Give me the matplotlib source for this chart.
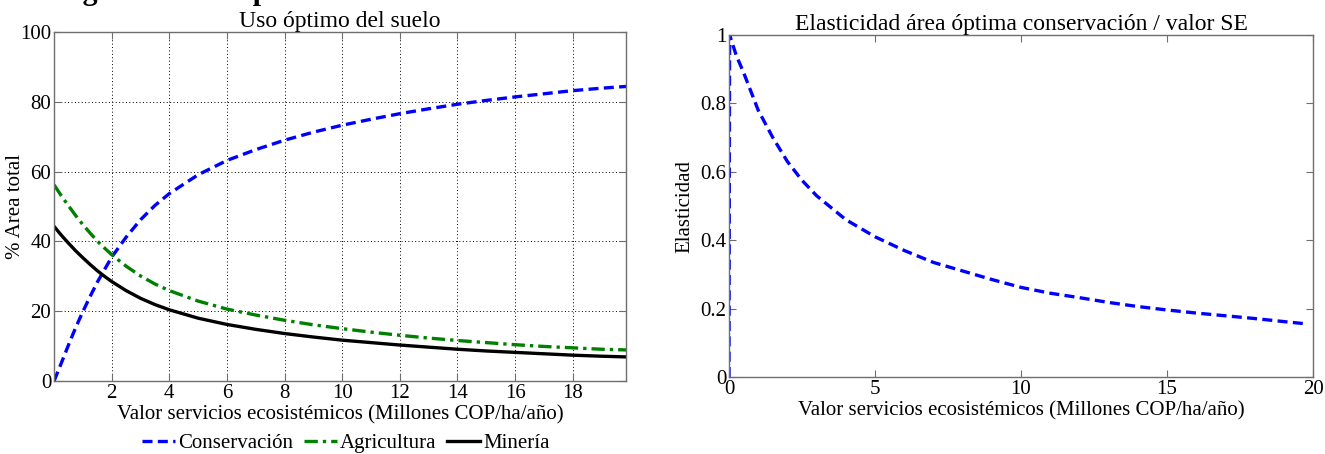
import numpy as np
import matplotlib.pyplot as plt
from matplotlib.ticker import FixedLocator, FuncFormatter

plt.rcParams.update({
    'font.family': ['Liberation Serif', 'DejaVu Serif'],
    'font.size': 15,
    'axes.linewidth': 1.0,
})

# -----------------------------------------------------------------------------
# Data

# Left panel: optimal land use (% of total area) vs ecosystem-service value
x_uso = [0, 0.25, 0.5, 0.75, 1, 1.25, 1.5, 1.75, 2, 2.5, 3, 3.5, 4, 5, 6, 7,
         8, 9, 10, 11, 12, 13, 14, 15, 16, 17, 18, 19, 19.85]
conservacion = [0, 5.1, 10.3, 15.3, 19.9, 24.2, 28.3, 31.9, 35.5, 41.2, 46.2,
                50.3, 53.7, 59.1, 63.2, 66.3, 69, 71.3, 73.3, 75, 76.6, 78,
                79.3, 80.4, 81.4, 82.3, 83.2, 83.9, 84.4]
agricultura = [56.2, 53.1, 50.2, 47.4, 44.8, 42.4, 40.1, 38.1, 36.2, 32.9,
               30.1, 27.8, 25.9, 22.9, 20.6, 18.9, 17.4, 16.1, 15.0, 14.0,
               13.1, 12.3, 11.6, 11.0, 10.4, 9.9, 9.5, 9.1, 8.9]
mineria = [44.3, 41.8, 39.5, 37.3, 35.3, 33.4, 31.6, 30.0, 28.5, 25.9, 23.7,
           21.9, 20.4, 18.0, 16.2, 14.8, 13.6, 12.6, 11.7, 11.0, 10.3, 9.7,
           9.1, 8.6, 8.2, 7.8, 7.4, 7.1, 6.9]

# Right panel: elasticity of optimal conservation area / SE value
x_elas = [0, 0.02, 0.25, 0.5, 1, 1.5, 2, 2.5, 3, 4, 5, 6, 7, 8, 9, 10, 11,
          12, 13, 14, 15, 16, 17, 18, 19, 19.7]
elasticidad = [0, 1.0, 0.94, 0.89, 0.78, 0.70, 0.63, 0.575, 0.53, 0.46, 0.41,
               0.37, 0.335, 0.31, 0.285, 0.262, 0.245, 0.232, 0.218, 0.206,
               0.196, 0.187, 0.179, 0.171, 0.162, 0.156]

xlab = 'Valor servicios ecosistémicos (Millones COP/ha/año)'
encabezado = ('Figura 3: Uso óptimo del suelo en función del valor de los '
              'servicios ecosistémicos')

# -----------------------------------------------------------------------------

fig = plt.figure(figsize=(13.25, 4.54), dpi=100)

# header of the page, cut off at the top in the original
fig.text(0.042, 1.016, encabezado, fontsize=21.5, fontweight='bold',
         ha='left', va='center')

edge = '#6e6e6e'
dash = (0, (3.0, 1.6))

# ---- left panel
ax1 = fig.add_axes([0.0408, 0.1608, 0.4317, 0.7687])
ax1.plot(x_uso, conservacion, color='#0000ff', linestyle=dash,
         linewidth=2.4, label='Conservación')
ax1.plot(x_uso, agricultura, color='#008000', linestyle=(0, (4.0, 1.5, 1.0, 1.5)),
         linewidth=2.4, label='Agricultura')
ax1.plot(x_uso, mineria, color='black', linewidth=2.4, label='Minería')

ax1.set_xlim(0, 19.85)
ax1.set_ylim(0, 100)
ax1.xaxis.set_major_locator(FixedLocator([2, 4, 6, 8, 10, 12, 14, 16, 18]))
ax1.yaxis.set_major_locator(FixedLocator([0, 20, 40, 60, 80, 100]))
ax1.grid(True, color='black', linestyle=(0, (1, 2.5)), linewidth=0.7)
ax1.set_title('Uso óptimo del suelo', fontsize=17, pad=2)
ax1.set_xlabel(xlab, labelpad=2)
ax1.set_ylabel('% Area total')
ax1.yaxis.set_label_coords(-0.05, 0.5)
ax1.legend(loc='center', bbox_to_anchor=(0.51, -0.178), ncol=3,
           frameon=False, handlelength=1.6, handletextpad=0.15,
           columnspacing=0.5, borderpad=0, fontsize=15)

# ---- right panel
ax2 = fig.add_axes([0.5502, 0.1696, 0.4408, 0.7533])
ax2.plot(x_elas, elasticidad, color='#0000ff', linestyle=dash, linewidth=2.4)
ax2.set_xlim(0, 20)
ax2.set_ylim(0, 1)
ax2.xaxis.set_major_locator(FixedLocator([0, 5, 10, 15, 20]))
ax2.yaxis.set_major_locator(FixedLocator([0, 0.2, 0.4, 0.6, 0.8, 1.0]))
ax2.yaxis.set_major_formatter(FuncFormatter(lambda v, p: f'{v:g}'))
ax2.set_title('Elasticidad área óptima conservación / valor SE',
              fontsize=17, pad=2)
ax2.set_xlabel(xlab, labelpad=2)
ax2.set_ylabel('Elasticidad', labelpad=4)

for ax in (ax1, ax2):
    for s in ax.spines.values():
        s.set_color(edge)
    ax.tick_params(which='both', direction='in', top=True, right=True,
                   length=5, width=0.8, color=edge, labelsize=15, pad=2)

plt.savefig('out.png', dpi=100)
